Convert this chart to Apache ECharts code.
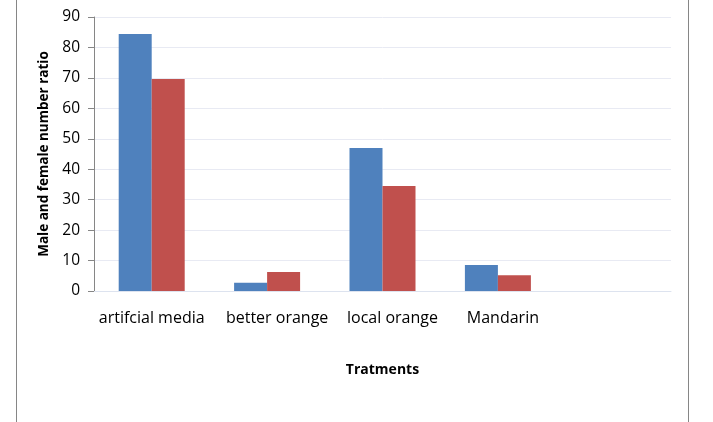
<!DOCTYPE html>
<html>
<head>
<meta charset="utf-8">
<script src="https://cdn.jsdelivr.net/npm/echarts@6/dist/echarts.min.js"></script>
<style>
html,body{margin:0;padding:0;background:#fff;}
#c{width:713px;height:422px;}
</style>
</head>
<body>
<div id="c"></div>
<script>
var categories = ['artifcial media', 'better orange', 'local orange', 'Mandarin', ''];
var maleValues = [84.4, 2.7, 47.0, 8.5, null];
var femaleValues = [69.6, 6.2, 34.5, 5.2, null];
var yTicks = [0, 10, 20, 30, 40, 50, 60, 70, 80, 90];

var chart = echarts.init(document.getElementById('c'));
var font = '"Open Sans", "Liberation Sans", sans-serif';
var labelStyles = ['s0', 's1', 's1', 's2', 's0'];
chart.setOption({
  animation: false,
  graphic: [
    {type: 'line', shape: {x1: 16.5, y1: 0, x2: 16.5, y2: 422}, style: {stroke: '#868686', lineWidth: 1}},
    {type: 'line', shape: {x1: 688.5, y1: 0, x2: 688.5, y2: 422}, style: {stroke: '#868686', lineWidth: 1}}
  ],
  grid: {left: 94, right: 42, top: 17, bottom: 131, containLabel: false},
  xAxis: {
    type: 'category',
    data: categories,
    name: 'Tratments',
    nameLocation: 'middle',
    nameGap: 72,
    nameTextStyle: {fontFamily: font, fontSize: 14, fontWeight: 'bold', color: '#000'},
    axisLine: {lineStyle: {color: '#dde3ef'}},
    axisTick: {show: false},
    axisLabel: {
      fontFamily: font, fontSize: 16, color: '#000', margin: 19, interval: 0,
      formatter: function (v, i) { return '{' + labelStyles[i] + '|' + v + '}'; },
      rich: {
        s0: {fontFamily: font, fontSize: 16, color: '#000'},
        s1: {fontFamily: font, fontSize: 16, color: '#000', padding: [0, 0, 0, 20]},
        s2: {fontFamily: font, fontSize: 16, color: '#000', padding: [0, 0, 0, 10]}
      }
    }
  },
  yAxis: {
    type: 'value',
    min: yTicks[0],
    max: yTicks[yTicks.length - 1],
    interval: 10,
    name: 'Male and female number ratio',
    nameLocation: 'middle',
    nameGap: 37,
    nameRotate: 90,
    nameTextStyle: {fontFamily: font, fontSize: 13.5, fontWeight: 'bold', color: '#000'},
    axisLine: {show: true, lineStyle: {color: '#868686'}},
    axisTick: {show: true, length: 6, lineStyle: {color: '#868686'}},
    axisLabel: {fontFamily: font, fontSize: 15.5, color: '#000', margin: 14},
    splitLine: {lineStyle: {color: '#e8eaf3'}}
  },
  series: [
    {type: 'bar', name: 'Male', data: maleValues, barWidth: 33, barGap: '0%', itemStyle: {color: '#4f81bd'}},
    {type: 'bar', name: 'Female', data: femaleValues, barWidth: 33, barGap: '0%', itemStyle: {color: '#c0504d'}}
  ]
});
</script>
</body>
</html>
